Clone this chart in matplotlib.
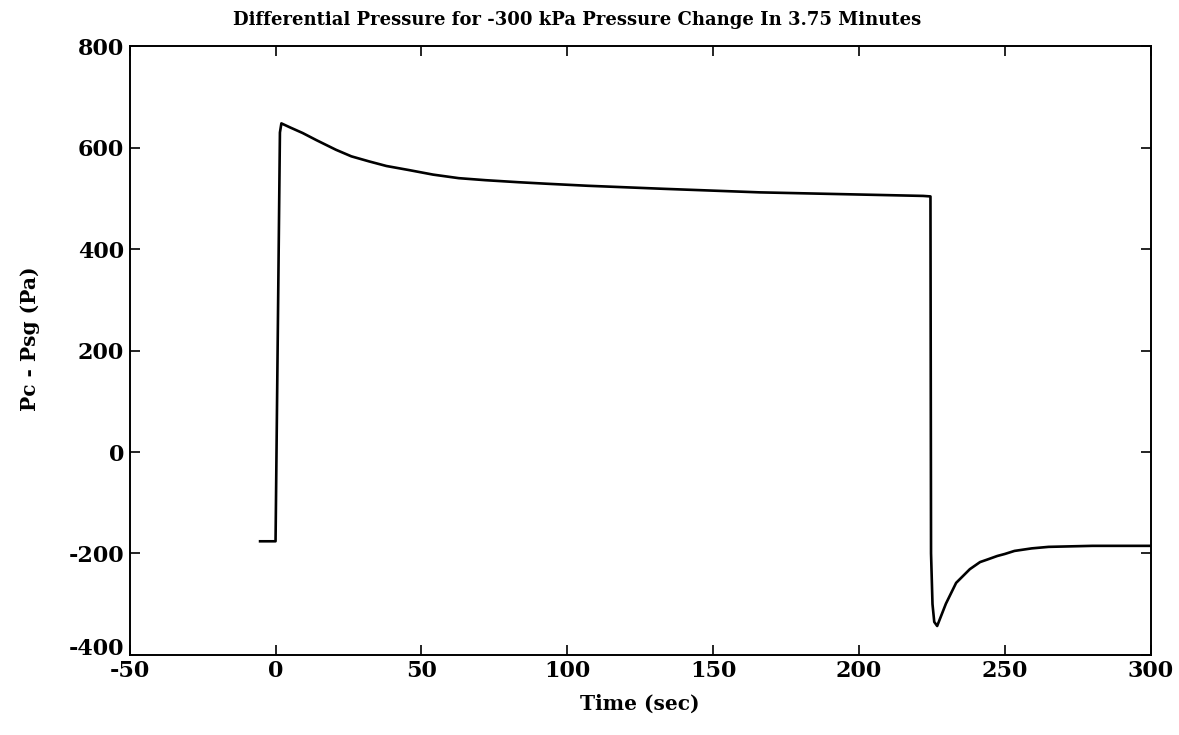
import numpy as np
import matplotlib.pyplot as plt
import matplotlib.transforms as mtransforms

# Pc - Psg trace (time in s, pressure in Pa)
time_s = [-5.3, 0.0, 0.8, 1.5, 2.0, 5.0, 9.3, 14.0, 20.7, 26.0, 32.1, 38.0,
          45.7, 54.0, 62.8, 72.0, 83.3, 93.0, 107.0, 133.0, 166.0, 198.0,
          222.0, 224.5, 224.7, 225.2, 225.8, 226.8, 229.8, 233.3, 238.0,
          241.5, 244.0, 247.4, 250.0, 253.3, 259.2, 265.0, 280.0, 300.0]
dp_pa = [-176, -176, 250, 630, 648, 640, 629, 615, 596, 583, 573, 564,
         556, 547, 540, 536, 532, 529, 525, 519, 512, 508,
         505, 504, -200, -300, -335, -343, -299, -258, -231,
         -217, -212, -205, -201, -195, -190, -187, -185, -185]

x_ticks = [-50, 0, 50, 100, 150, 200, 250, 300]
y_ticks = [-400, -200, 0, 200, 400, 600, 800]

plt.rcParams['font.family'] = ['DejaVu Serif']
plt.rcParams['font.weight'] = 'bold'
plt.rcParams['axes.unicode_minus'] = False

fig = plt.figure(figsize=(11.79, 7.35), dpi=100)
ax = fig.add_axes([0.110, 0.109, 0.866, 0.828])

ax.plot(time_s, dp_pa, color='black', linewidth=1.9)

ax.set_xlim(-50, 300)
ax.set_ylim(-400, 800)
ax.set_xticks(x_ticks)
ax.set_yticks(y_ticks)
ax.tick_params(direction='in', top=True, right=True, length=7, width=1.2,
               labelsize=16, pad=4)
for s in ax.spines.values():
    s.set_linewidth(1.4)

# the bottom y label sits a little higher in the original, clear of "-50"
lbl = ax.get_yticklabels()[0]
lbl.set_transform(lbl.get_transform() +
                  mtransforms.ScaledTranslation(0, 6 / 72, fig.dpi_scale_trans))

fig.text(577 / 1179, 1 - 20 / 735,
         "Differential Pressure for -300 kPa Pressure Change In 3.75 Minutes",
         fontsize=13, fontweight='bold', ha='center', va='center')
ax.set_xlabel("Time (sec)", fontsize=14.5, fontweight='bold', labelpad=8)
ax.set_ylabel("Pc - Psg (Pa)", fontsize=14.5, fontweight='bold')
ax.yaxis.set_label_coords(-0.088, 0.52)

fig.savefig("out.png", dpi=100)
